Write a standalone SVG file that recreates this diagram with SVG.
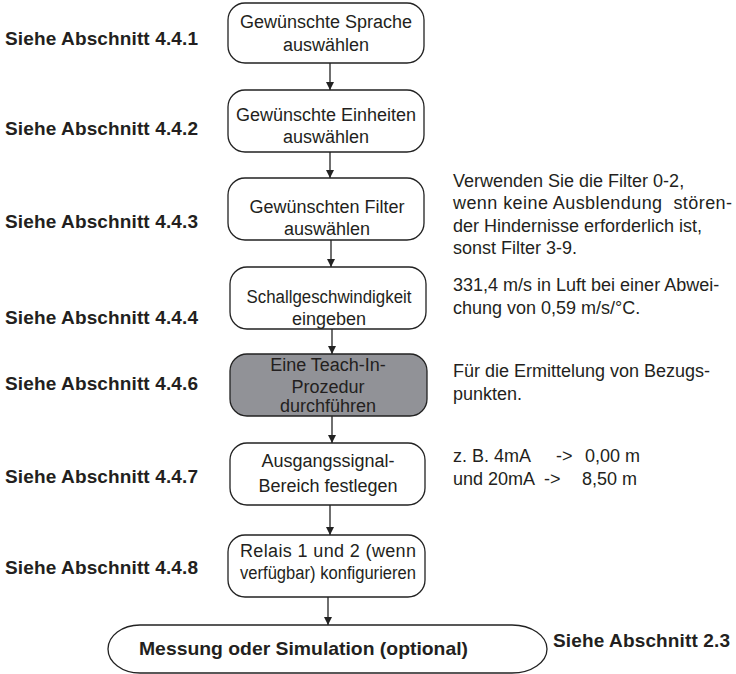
<svg xmlns="http://www.w3.org/2000/svg" width="736" height="674" viewBox="0 0 736 674">
<style>
.box{fill:#fff;stroke:#222;stroke-width:1.3}
.gray{fill:#919297;stroke:#222;stroke-width:1.3}
.t{font-family:"Liberation Sans",Arial,Helvetica,sans-serif;font-size:18px;fill:#231f20}
.c{text-anchor:middle}
.b{font-family:"Liberation Sans",Arial,Helvetica,sans-serif;font-size:19px;font-weight:bold;fill:#231f20}
.ln{stroke:#222;stroke-width:1.3;fill:none}
</style>
<defs>
<marker id="ah" viewBox="0 0 10 10" refX="10" refY="5" markerWidth="8" markerHeight="8" markerUnits="userSpaceOnUse" orient="auto">
<path d="M0,0 L10,5 L0,10 z" fill="#222"/>
</marker>
</defs>
<g id="connectors">
<line class="ln" x1="330" y1="63" x2="330" y2="90" marker-end="url(#ah)"/>
<line class="ln" x1="330" y1="152" x2="330" y2="178" marker-end="url(#ah)"/>
<line class="ln" x1="331" y1="240" x2="331" y2="267" marker-end="url(#ah)"/>
<line class="ln" x1="332" y1="329" x2="332" y2="354" marker-end="url(#ah)"/>
<line class="ln" x1="332" y1="416" x2="332" y2="443" marker-end="url(#ah)"/>
<line class="ln" x1="330" y1="505" x2="330" y2="535" marker-end="url(#ah)"/>
<line class="ln" x1="328" y1="597" x2="328" y2="625" marker-end="url(#ah)"/>
</g>
<g id="n1"><rect class="box" x="228" y="3" width="196" height="60" rx="17"/>
<text class="t c" x="326" y="28">Gewünschte Sprache</text><text class="t c" x="326" y="51">auswählen</text></g>
<g id="n2"><rect class="box" x="228" y="90" width="196" height="62" rx="17"/>
<text class="t c" x="326" y="121">Gewünschte Einheiten</text><text class="t c" x="326" y="143">auswählen</text></g>
<g id="n3"><rect class="box" x="228" y="178" width="196" height="62" rx="17"/>
<text class="t c" x="327" y="213">Gewünschten Filter</text><text class="t c" x="327" y="235">auswählen</text></g>
<g id="n4"><rect class="box" x="230" y="267" width="196" height="62" rx="17"/>
<text class="t c" x="329" y="303" textLength="165" lengthAdjust="spacingAndGlyphs">Schallgeschwindigkeit</text><text class="t c" x="329" y="325">eingeben</text></g>
<g id="n5"><rect class="gray" x="230" y="354" width="197" height="62" rx="17"/>
<text class="t c" x="328" y="371">Eine Teach-In-</text><text class="t c" x="328" y="393">Prozedur</text><text class="t c" x="328" y="412">durchführen</text></g>
<g id="n6"><rect class="box" x="230" y="443" width="195" height="62" rx="17"/>
<text class="t c" x="328" y="467">Ausgangssignal-</text><text class="t c" x="328" y="492">Bereich festlegen</text></g>
<g id="n7"><rect class="box" x="228" y="535" width="197" height="62" rx="17"/>
<text class="t c" x="328" y="557" textLength="176" lengthAdjust="spacing">Relais 1 und 2 (wenn</text><text class="t c" x="328" y="579" textLength="176" lengthAdjust="spacingAndGlyphs">verfügbar) konfigurieren</text></g>
<g id="n8"><path class="box" d="M140,625 H512 A35,24 0 0 1 512,673 H140 A32,24 0 0 1 140,625 Z"/>
<text class="b" x="139" y="655" textLength="329" lengthAdjust="spacingAndGlyphs">Messung oder Simulation (optional)</text></g>
<g id="refs">
<text class="b" x="5" y="45" textLength="193" lengthAdjust="spacing">Siehe Abschnitt 4.4.1</text>
<text class="b" x="5" y="135" textLength="193" lengthAdjust="spacing">Siehe Abschnitt 4.4.2</text>
<text class="b" x="5" y="228" textLength="193" lengthAdjust="spacing">Siehe Abschnitt 4.4.3</text>
<text class="b" x="5" y="324" textLength="193" lengthAdjust="spacing">Siehe Abschnitt 4.4.4</text>
<text class="b" x="5" y="390" textLength="193" lengthAdjust="spacing">Siehe Abschnitt 4.4.6</text>
<text class="b" x="5" y="483" textLength="193" lengthAdjust="spacing">Siehe Abschnitt 4.4.7</text>
<text class="b" x="5" y="574" textLength="193" lengthAdjust="spacing">Siehe Abschnitt 4.4.8</text>
<text class="b" x="553" y="647" textLength="177" lengthAdjust="spacing">Siehe Abschnitt 2.3</text>
</g>
<g id="notes">
<text class="t" x="453" y="187">Verwenden Sie die Filter 0-2,</text>
<text class="t" x="453" y="209" xml:space="preserve" textLength="279" lengthAdjust="spacing">wenn keine Ausblendung  stören-</text>
<text class="t" x="453" y="232">der Hindernisse erforderlich ist,</text>
<text class="t" x="453" y="254">sonst Filter 3-9.</text>
<text class="t" x="453" y="291">331,4 m/s in Luft bei einer Abwei-</text>
<text class="t" x="453" y="314">chung von 0,59 m/s/°C.</text>
<text class="t" x="453" y="377">Für die Ermittelung von Bezugs-</text>
<text class="t" x="453" y="400">punkten.</text>
<text class="t" y="462"><tspan x="453">z. B. 4mA</tspan><tspan x="556">-&gt;</tspan><tspan x="585">0,00 m</tspan></text>
<text class="t" y="485"><tspan x="453">und 20mA</tspan><tspan x="544">-&gt;</tspan><tspan x="582">8,50 m</tspan></text>
</g>
</svg>
